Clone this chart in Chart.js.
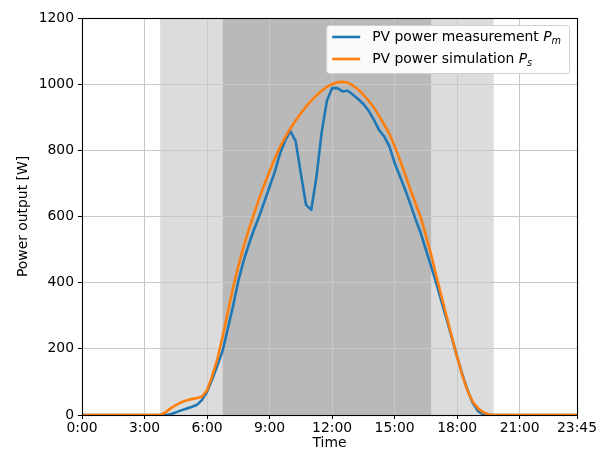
<!DOCTYPE html>
<html><head><meta charset="utf-8">
<script src="https://cdn.jsdelivr.net/npm/chart.js@4.4.0/dist/chart.umd.min.js"></script>
<style>html,body{margin:0;padding:0;background:#fff;}canvas{display:block;}</style>
</head><body>
<canvas id="c" width="604" height="450"></canvas>
<script>
const times = ["0:00",
 "3:45",
 "4:00","4:15","4:30","4:45","5:00","5:15","5:30","5:45",
 "6:00","6:15","6:30","6:45","7:00","7:15","7:30","7:45",
 "8:00","8:15","8:30","8:45","9:00","9:15","9:30","9:45",
 "10:00","10:15","10:30","10:45","11:00","11:15","11:30","11:45",
 "12:00","12:15","12:30","12:45","13:00","13:15","13:30","13:45",
 "14:00","14:15","14:30","14:45","15:00","15:15","15:30","15:45",
 "16:00","16:15","16:30","16:45","17:00","17:15","17:30","17:45",
 "18:00","18:15","18:30","18:45","19:00","19:15","19:30","19:45",
 "23:45"];
const measurement = [0,
 0,
 0,2,8,14, 19,24,30,45,
 70,108,150,195, 262,330,405,465,
 515,560,600,645, 690,735,790,830,
 858,828,730,635, 620,720,855,950,
 988,988,978,980, 968,955,940,920,
 893,862,842,812, 762,722,682,638,
 592,550,500,450, 398,343,288,232,
 176,122,75,36, 12,2,0,0,
 0];
const simulation = [0,
 0,
 8,20,30,38, 44,48,51,55,
 75,118,170,238, 312,385,450,508,
 560,608,654,697, 737,775,810,840,
 866,890,912,932, 950,966,980,992,
 1000,1006,1007,1004, 996,984,968,950,
 930,905,878,850, 812,772,728,683,
 640,598,543,485, 420,358,297,235,
 175,120,72,40, 20,8,2,0,
 0];
const xTickLabels = ["0:00","3:00","6:00","9:00","12:00","15:00","18:00","21:00","23:45"];
const yTicks = [0,200,400,600,800,1000,1200];
const lightBand = ["3:45","19:45"];
const darkBand = ["6:45","16:45"];
const seriesNames = ["PV power measurement ","PV power simulation "];
const seriesSubs = ["m","s"];
const xTitle = "Time";
const yTitle = "Power output [W]";

const FAM = '"DejaVu Sans", "Liberation Sans", sans-serif';
const FS = 13.9;
function toHours(t){const p=t.split(':').map(Number);return p[0]+p[1]/60;}
const tickHours = xTickLabels.map(toHours);
const colors = ['#1f77b4','#ff7f0e'];
const LW = 2.6;

const bandsPlugin = {
  id:'bands',
  beforeDraw(chart){
    const {ctx, chartArea:a, scales:{x}} = chart;
    ctx.save();
    const draw=(b,c)=>{const x0=x.getPixelForValue(toHours(b[0])),x1=x.getPixelForValue(toHours(b[1]));ctx.fillStyle=c;ctx.fillRect(x0,a.top,x1-x0,a.bottom-a.top);};
    draw(lightBand,'#dcdcdc');
    draw(darkBand,'#b9b9b9');
    ctx.restore();
  }
};
const framePlugin = {
  id:'frame',
  afterDatasetsDraw(chart){
    const {ctx, chartArea:a} = chart;
    ctx.save();
    ctx.strokeStyle='#000';ctx.lineWidth=1.1;
    ctx.strokeRect(Math.round(a.left)+0.5,Math.round(a.top)+0.5,Math.round(a.right-a.left),Math.round(a.bottom-a.top));
    ctx.restore();
  }
};
const legendPlugin = {
  id:'mylegend',
  afterDraw(chart){
    const {ctx, chartArea:a} = chart;
    ctx.save();
    const fN = `${FS}px ${FAM}`, fI = `italic ${FS}px ${FAM}`, fS = `italic ${FS*0.7}px ${FAM}`;
    const widths = seriesNames.map((n,i)=>{
      ctx.font=fN; let w=ctx.measureText(n).width;
      ctx.font=fI; w+=ctx.measureText('P').width;
      ctx.font=fS; w+=ctx.measureText(seriesSubs[i]).width;
      return w;});
    const tw = Math.max(...widths);
    const boxW = 6+28+12+tw+8, boxH = 48;
    const bx = a.right-8-boxW, by = a.top+7;
    ctx.beginPath();
    if (ctx.roundRect) ctx.roundRect(bx+0.5,by+0.5,boxW,boxH,3); else ctx.rect(bx+0.5,by+0.5,boxW,boxH);
    ctx.fillStyle='rgba(255,255,255,0.93)';ctx.fill();
    ctx.strokeStyle='#d0d0d0';ctx.lineWidth=1;ctx.stroke();
    seriesNames.forEach((n,i)=>{
      const cy = by+12+i*22;
      ctx.strokeStyle=colors[i];ctx.lineWidth=LW;
      ctx.beginPath();ctx.moveTo(bx+6,cy);ctx.lineTo(bx+34,cy);ctx.stroke();
      let tx = bx+46;
      ctx.fillStyle='#000';ctx.textBaseline='middle';ctx.textAlign='left';
      ctx.font=fN;ctx.fillText(n,tx,cy);tx+=ctx.measureText(n).width;
      ctx.font=fI;ctx.fillText('P',tx,cy);tx+=ctx.measureText('P').width;
      ctx.font=fS;ctx.fillText(seriesSubs[i],tx,cy+4);
    });
    ctx.restore();
  }
};

const mk = (arr)=>times.map((t,i)=>({x:toHours(t),y:arr[i]}));
new Chart(document.getElementById('c'),{
  type:'line',
  data:{datasets:[
    {label:seriesNames[0]+'P'+seriesSubs[0],data:mk(measurement),borderColor:colors[0],borderWidth:LW,pointRadius:0,tension:0,fill:false,order:2,borderJoinStyle:'round',borderCapStyle:'round'},
    {label:seriesNames[1]+'P'+seriesSubs[1],data:mk(simulation),borderColor:colors[1],borderWidth:LW,pointRadius:0,tension:0,fill:false,order:1,borderJoinStyle:'round',borderCapStyle:'round'}
  ]},
  options:{
    responsive:false,animation:false,
    layout:{padding:{left:0,right:27,top:18,bottom:0}},
    plugins:{legend:{display:false},tooltip:{enabled:false}},
    scales:{
      x:{type:'linear',min:0,max:23.75,
        afterBuildTicks(s){s.ticks=tickHours.map(v=>({value:v}));},
        ticks:{autoSkip:false,maxRotation:0,minRotation:0,padding:1,color:'#000',font:{family:FAM,size:FS},
          callback(v){const i=tickHours.findIndex(h=>Math.abs(h-v)<1e-6);return i>=0?xTickLabels[i]:'';}},
        grid:{color:'#c8c8c8',tickColor:'#000',tickLength:4,lineWidth:1},
        border:{display:false},
        title:{display:true,text:xTitle,color:'#000',font:{family:FAM,size:FS,lineHeight:1},padding:0},
        afterFit(s){s.height=35;}
      },
      y:{min:0,max:1200,
        afterBuildTicks(s){s.ticks=yTicks.map(v=>({value:v}));},
        ticks:{padding:4,color:'#000',font:{family:FAM,size:FS},callback(v){return String(v);}},
        grid:{color:'#c8c8c8',tickColor:'#000',tickLength:4,lineWidth:1},
        border:{display:false},
        title:{display:true,text:yTitle,color:'#000',font:{family:FAM,size:FS,lineHeight:1},padding:{top:16,bottom:0}},
        afterFit(s){s.width=82;}
      }
    }
  },
  plugins:[bandsPlugin,framePlugin,legendPlugin]
});
</script>
</body></html>
